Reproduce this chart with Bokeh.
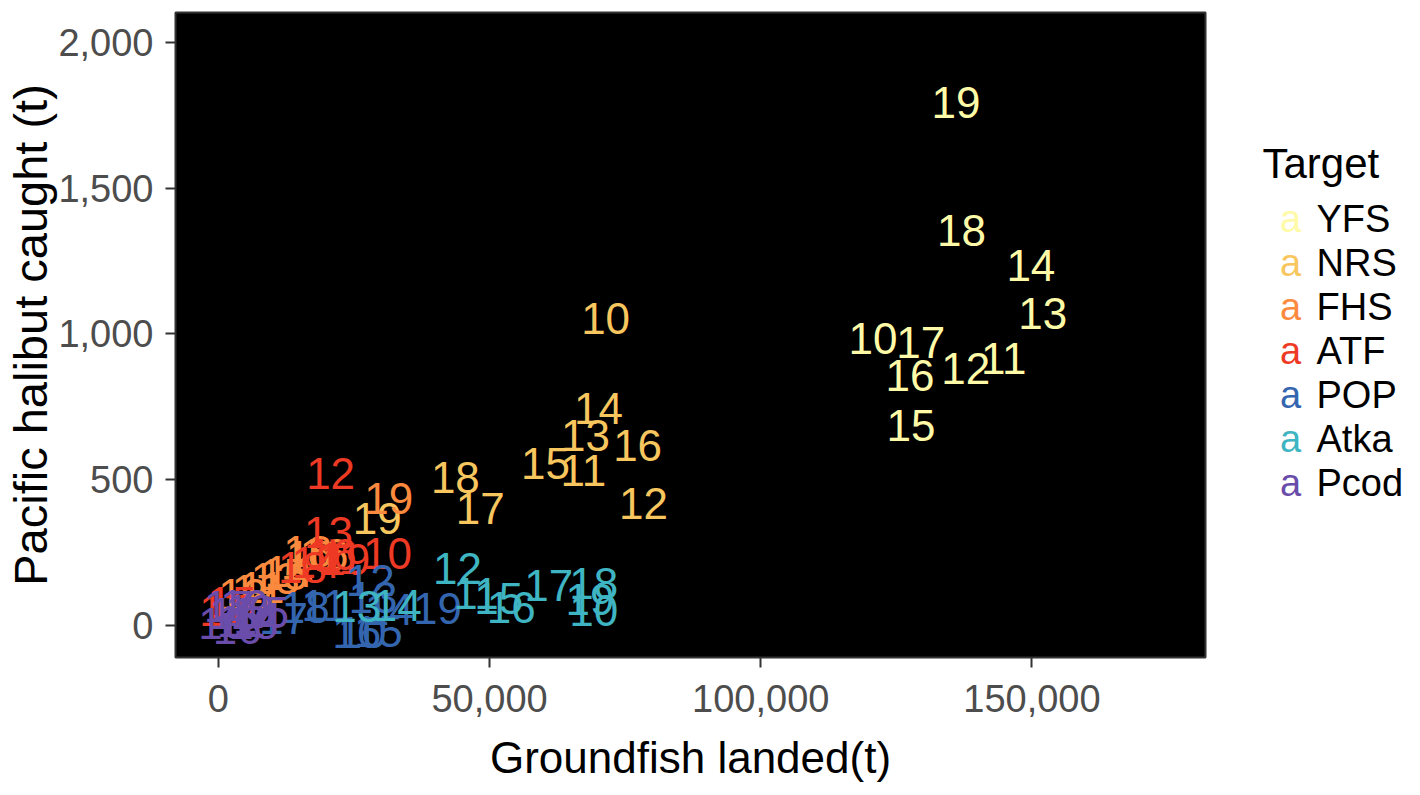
from bokeh.plotting import figure
from bokeh.models import ColumnDataSource, Range1d, FixedTicker, NumeralTickFormatter
from bokeh.layouts import row
from bokeh.core.properties import value
from bokeh.embed import file_html
from bokeh.resources import INLINE

# --- data: landed groundfish (t) vs Pacific halibut caught (t), label = year ---
years = ["10", "11", "12", "13", "14", "15", "16", "17", "18", "19"]
targets = ["YFS", "NRS", "FHS", "ATF", "POP", "Atka", "Pcod"]
colors = ["#FFFAA8", "#F7C65E", "#FB8A3E", "#EE3A24", "#3466B0", "#3FB4C2", "#6A4DAA"]

yfs_x = [120700, 144800, 137800, 152000, 149800, 127700, 127500, 129500, 137000, 136000]
yfs_y = [985, 916, 882, 1070, 1235, 686, 858, 971, 1355, 1794]
nrs_x = [71400, 67300, 78400, 67700, 70100, 60300, 77300, 48300, 43700, 29300]
nrs_y = [1053, 532, 418, 652, 744, 556, 617, 401, 508, 367]
fhs_x = [17000, 8000, 4500, 10500, 13000, 12000, 19500, 7000, 16500, 31400]
fhs_y = [235, 130, 105, 160, 185, 175, 245, 120, 255, 436]
atf_x = [31200, 22500, 20700, 20300, 18000, 2500, 21000, 1000, 15500, 23500]
atf_y = [247, 230, 521, 319, 215, 80, 245, 50, 200, 225]
pop_x = [26500, 19500, 28000, 28500, 31500, 29500, 25500, 12000, 16000, 40400]
pop_y = [-25, 70, 154, 95, 55, -20, -25, 25, 60, 58]
atka_x = [69200, 47500, 44100, 25500, 33000, 51700, 54000, 60900, 69200, 68500]
atka_y = [51, 110, 196, 65, 70, 93, 62, 137, 144, 88]
pcod_x = [800, 2500, 4200, 5800, 7200, 8500, 3500, 1800, 6500, 4800]
pcod_y = [5, 40, 15, 50, 25, 45, -10, 65, 5, 70]

x_ticks = [0, 50000, 100000, 150000]
y_ticks = [0, 500, 1000, 1500, 2000]

series = [(yfs_x, yfs_y), (nrs_x, nrs_y), (fhs_x, fhs_y), (atf_x, atf_y),
          (pop_x, pop_y), (atka_x, atka_y), (pcod_x, pcod_y)]

FONT = "Liberation Sans"

p = figure(width=1240, height=787, x_range=Range1d(-7900, 182000), y_range=Range1d(-110, 2103),
           output_backend="svg", toolbar_location=None,
           min_border_left=175, min_border_right=35, min_border_top=12, min_border_bottom=130)
p.background_fill_color = "black"
p.border_fill_color = "white"
p.outline_line_color = "#333333"
p.outline_line_width = 2
p.grid.visible = False

for (xs, ys), col in zip(series, colors):
    src = ColumnDataSource(data=dict(x=xs, y=ys, lab=years))
    p.text("x", "y", text="lab", source=src, text_color=col, text_align="center",
           text_baseline="middle", text_font=value(FONT), text_font_size="44px")

for ax in (p.xaxis[0], p.yaxis[0]):
    ax.axis_line_color = None
    ax.major_tick_line_color = "#333333"
    ax.major_tick_line_width = 2
    ax.major_tick_in = 0
    ax.major_tick_out = 10
    ax.minor_tick_line_color = None
    ax.major_label_text_font = FONT
    ax.major_label_text_font_size = "38px"
    ax.major_label_text_color = "#4D4D4D"
    ax.formatter = NumeralTickFormatter(format="0,0")
    ax.axis_label_text_font = FONT
    ax.axis_label_text_font_style = "normal"
    ax.axis_label_text_color = "black"

p.xaxis.ticker = FixedTicker(ticks=x_ticks)
p.yaxis.ticker = FixedTicker(ticks=y_ticks)
p.xaxis.axis_label = "Groundfish landed(t)"
p.xaxis.axis_label_text_font_size = "44px"
p.xaxis.major_label_standoff = 17
p.xaxis.axis_label_standoff = 18
p.yaxis.axis_label = "Pacific halibut caught (t)"
p.yaxis.axis_label_text_font_size = "47px"
p.yaxis.major_label_standoff = 12
p.yaxis.axis_label_standoff = -2

# --- legend panel (frame is aligned with the main plot frame by the row layout) ---
leg = figure(width=166, height=787, x_range=Range1d(1240, 1406), y_range=Range1d(657, 12),
             output_backend="svg", toolbar_location=None, min_border=0)
leg.axis.visible = False
leg.grid.visible = False
leg.outline_line_color = None
leg.background_fill_color = "white"

leg.text(x=[1262], y=[163], text=["Target"], text_color="black", text_baseline="middle",
         text_font=value(FONT), text_font_size="42px")
row_y = [218 + 44 * i for i in range(len(targets))]
leg.text(x=[1290] * len(targets), y=row_y, text=["a"] * len(targets), text_color=colors,
         text_align="center", text_baseline="middle", text_font=value(FONT), text_font_size="38px")
leg.text(x=[1316] * len(targets), y=row_y, text=targets, text_color="black",
         text_baseline="middle", text_font=value(FONT), text_font_size="38px")

layout = row(p, leg)
open("out.html", "w").write(file_html(layout, INLINE))
